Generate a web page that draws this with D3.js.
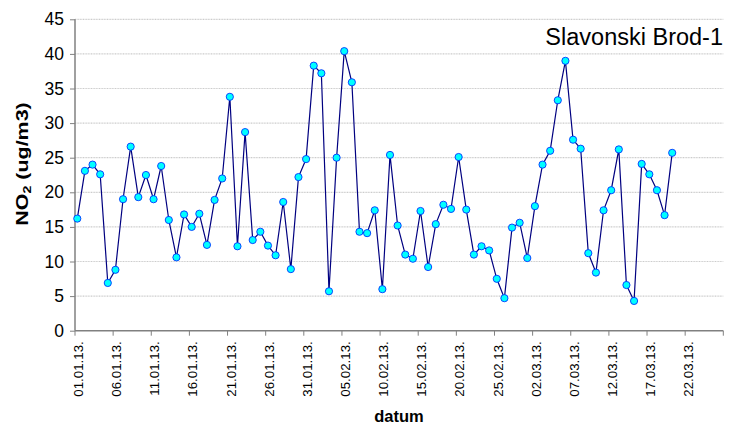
<!DOCTYPE html>
<html>
<head>
<meta charset="utf-8">
<script src="https://cdn.jsdelivr.net/npm/d3@7"></script>
<style>
html,body{margin:0;padding:0;background:#fff;}
svg{display:block;font-family:"Liberation Sans",Arial,sans-serif;}
</style>
</head>
<body>
<svg id="chart" width="729" height="425"></svg>
<script>
const title = "Slavonski Brod-1";
const axisDays = 85;
const values = [
  16.2, 23.1, 24.0, 22.6, 6.9, 8.8, 19.0, 26.6, 19.3, 22.5,
  19.0, 23.8, 16.0, 10.6, 16.8, 15.0, 16.9, 12.4, 18.9, 22.0,
  33.8, 12.2, 28.7, 13.1, 14.3, 12.3, 10.9, 18.6, 8.9, 22.2,
  24.8, 38.3, 37.2, 5.7, 25.0, 40.4, 35.9, 14.3, 14.1, 17.4,
  6.0, 25.4, 15.2, 11.0, 10.4, 17.3, 9.2, 15.4, 18.2, 17.6,
  25.1, 17.5, 11.0, 12.2, 11.6, 7.5, 4.7, 14.9, 15.6, 10.5,
  18.0, 24.0, 26.0, 33.3, 39.0, 27.6, 26.3, 11.2, 8.4, 17.4,
  20.3, 26.2, 6.6, 4.3, 24.1, 22.6, 20.3, 16.7, 25.7
];
const tickDays = [0,5,10,15,20,25,30,35,40,45,50,55,60,65,70,75,80];
const tickLabels = ["01.01.13.","06.01.13.","11.01.13.","16.01.13.","21.01.13.","26.01.13.","31.01.13.","05.02.13.","10.02.13.","15.02.13.","20.02.13.","25.02.13.","02.03.13.","07.03.13.","12.03.13.","17.03.13.","22.03.13."];
const yTicks = [0,5,10,15,20,25,30,35,40,45];

const svg = d3.select("#chart");
const mLeft = 75, mRight = 723.3, mTop = 19.3, mBottom = 330.7;
const x = d3.scaleLinear().domain([0, axisDays]).range([mLeft, mRight]);
const y = d3.scaleLinear().domain([0, 45]).range([mBottom, mTop]);
const ptOff = 0.3;

// gridlines
svg.append("g").selectAll("line").data(yTicks.filter(d => d > 0)).join("line")
  .attr("x1", mLeft).attr("x2", mRight)
  .attr("y1", d => y(d)).attr("y2", d => y(d))
  .attr("stroke", "#cccccc").attr("stroke-width", 1.2)
  .attr("stroke-dasharray", "1,0.6");

// y axis
const yAxis = svg.append("g").attr("transform", `translate(${mLeft},0)`)
  .call(d3.axisLeft(y).tickValues(yTicks).tickSize(5).tickPadding(6).tickFormat(d3.format("d")));
yAxis.select(".domain").attr("stroke", "#808080").attr("stroke-width", 1.5).attr("d", `M0,${mTop}V${mBottom}`);
yAxis.selectAll(".tick line").attr("stroke", "#808080");
yAxis.selectAll("text").attr("font-size", 17.5).attr("fill", "#000").attr("font-family", "Liberation Sans, Arial, sans-serif");

// x axis
const xg = svg.append("g").attr("transform", `translate(0,${mBottom})`);
xg.append("line").attr("x1", mLeft).attr("x2", mRight).attr("y1", 0).attr("y2", 0)
  .attr("stroke", "#808080").attr("stroke-width", 1.5);
xg.selectAll("line.tk").data(tickDays.concat([axisDays])).join("line").attr("class", "tk")
  .attr("x1", d => x(d)).attr("x2", d => x(d)).attr("y1", 0).attr("y2", 5)
  .attr("stroke", "#808080");
xg.selectAll("text").data(tickDays).join("text")
  .attr("transform", (d) => `translate(${x(d) + 4.5},${10.5}) rotate(-90)`)
  .attr("text-anchor", "end").attr("dominant-baseline", "middle")
  .attr("font-size", 13.3).attr("fill", "#000")
  .text((d, i) => tickLabels[i]);

// line
const line = d3.line().x((d, i) => x(i + ptOff)).y(d => y(d));
svg.append("path").datum(values).attr("d", line)
  .attr("fill", "none").attr("stroke", "#000080").attr("stroke-width", 1.2);

// markers
svg.append("g").selectAll("circle").data(values).join("circle")
  .attr("cx", (d, i) => x(i + ptOff)).attr("cy", d => y(d)).attr("r", 3.6)
  .attr("fill", "#00FFFF").attr("stroke", "#0033FF").attr("stroke-width", 0.9);

// title
svg.append("text").attr("x", 723).attr("y", 45).attr("text-anchor", "end")
  .attr("font-size", 23.5).attr("fill", "#000").text(title);

// axis titles
svg.append("text").attr("x", 399).attr("y", 422)
  .attr("text-anchor", "middle").attr("font-size", 16.5).attr("font-weight", "bold").text("datum");

const yt = svg.append("text").attr("transform", "translate(28,164) rotate(-90) scale(1.3,1)")
  .attr("text-anchor", "middle").attr("font-size", 16.5).attr("font-weight", "bold");
yt.append("tspan").text("NO");
yt.append("tspan").attr("font-size", 11).attr("dy", 3).text("2");
yt.append("tspan").attr("dy", -3).text(" (ug/m3)");
</script>
</body>
</html>
